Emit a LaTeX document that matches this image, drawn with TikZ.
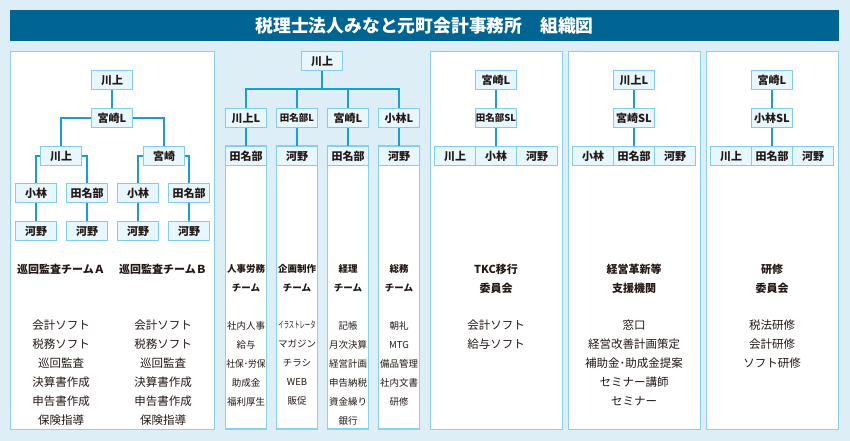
\documentclass[tikz,border=0pt]{standalone}
\usepackage{fontspec}
\setmainfont{Noto Sans CJK JP}
\usepackage{graphicx}
\definecolor{bgc}{RGB}{221,238,247}
\definecolor{titlec}{RGB}{0,101,146}
\definecolor{panelline}{RGB}{140,208,240}
\definecolor{boxline}{RGB}{130,204,240}
\definecolor{boxfill}{RGB}{232,246,253}
\definecolor{connc}{RGB}{24,157,214}
\definecolor{ink}{RGB}{35,24,21}
\newcommand\bxfnt{\bfseries\fontsize{11}{13}\selectfont}
\newcommand\bxsmall{\fontsize{9.5}{11}\selectfont}
\tikzset{
  box/.style={draw=boxline, fill=boxfill, line width=1.2pt, minimum width=41pt,
    minimum height=19pt, inner sep=0pt, font=\bxfnt, text=ink},
  conn/.style={draw=connc, line width=2pt},
  panel/.style={draw=panelline, fill=white, line width=1.2pt, inner sep=0pt},
  colrect/.style={draw=panelline, fill=white, line width=1.2pt, minimum width=41pt,
    minimum height=283pt, inner sep=0pt},
  team/.style={font=\bfseries\fontsize{11}{19}\selectfont, text=ink, align=center, inner sep=0pt},
  items/.style={font=\fontsize{11.5}{19}\selectfont, text=ink, align=center, inner sep=0pt, anchor=north},
  cteam/.style={font=\bfseries\fontsize{9.5}{19}\selectfont, text=ink, align=center, inner sep=0pt},
  citems/.style={font=\fontsize{9.5}{19}\selectfont, text=ink, align=center, inner sep=0pt, anchor=north},
}
\begin{document}
\begin{tikzpicture}[x=1pt,y=-1pt]
\useasboundingbox (0,0) rectangle (850,441);
\fill[bgc] (0,0) rectangle (850,441);
% title
\node[fill=titlec, minimum width=829pt, minimum height=31pt, inner sep=0pt, anchor=north west] (titlebar) at (10,10) {};
\node[text=white, font=\bfseries\fontsize{17.8}{19}\selectfont] (title) at (424.5,26) {税理士法人みなと元町会計事務所　組織図};
% panels
\node[panel, minimum width=204pt, minimum height=378pt, anchor=north west] (pA) at (10,51) {};
\node[panel, minimum width=132pt, minimum height=378pt, anchor=north west] (p1) at (430,51) {};
\node[panel, minimum width=132pt, minimum height=378pt, anchor=north west] (p2) at (568,51) {};
\node[panel, minimum width=132pt, minimum height=378pt, anchor=north west] (p3) at (706,51) {};
% left tree
\node[box] (a1) at (112,80) {川上};
\node[box] (a2) at (112,118) {宮崎L};
\node[box] (a3) at (61,156) {川上};
\node[box] (a4) at (164,156) {宮崎};
\node[box] (a5) at (36,193) {小林};
\node[box] (a6) at (87,193) {田名部};
\node[box] (a7) at (138,193) {小林};
\node[box] (a8) at (189,193) {田名部};
\node[box] (a9) at (36,231) {河野};
\node[box] (a10) at (87,231) {河野};
\node[box] (a11) at (138,231) {河野};
\node[box] (a12) at (189,231) {河野};
\draw[conn] (a1) -- (a2);
\draw[conn] (a2.west) -| (a3.north);
\draw[conn] (a2.east) -| (a4.north);
\draw[conn] (a3.west) -| (a5.north);
\draw[conn] (a3.east) -| (a6.north);
\draw[conn] (a4.west) -| (a7.north);
\draw[conn] (a4.east) -| (a8.north);
\draw[conn] (a5) -- (a9);
\draw[conn] (a6) -- (a10);
\draw[conn] (a7) -- (a11);
\draw[conn] (a8) -- (a12);
\node[team] (ta) at (61,269) {巡回監査チームＡ};
\node[team] (tb) at (163,269) {巡回監査チームＢ};
\node[items] (ia) at (61,320) {会計ソフト\\税務ソフト\\巡回監査\\決算書作成\\申告書作成\\保険指導};
\node[items] (ib) at (163,320) {会計ソフト\\税務ソフト\\巡回監査\\決算書作成\\申告書作成\\保険指導};
% middle
\node[colrect] (c1) at (246,287.5) {};
\node[colrect] (c2) at (297,287.5) {};
\node[colrect] (c3) at (348,287.5) {};
\node[colrect] (c4) at (399,287.5) {};
\node[box] (m0) at (322,61) {川上};
\coordinate (hub) at (322,89);
\node[box] (m1) at (246,118) {川上L};
\node[box] (m2) at (297,118) {\bxsmall 田名部L};
\node[box] (m3) at (348,118) {宮崎L};
\node[box] (m4) at (399,118) {小林L};
\node[box] (h1) at (246,156) {田名部};
\node[box] (h2) at (297,156) {河野};
\node[box] (h3) at (348,156) {田名部};
\node[box] (h4) at (399,156) {河野};
\draw[conn] (m0) -- (hub);
\draw[conn] (m1.north) |- (hub) -| (m4.north);
\draw[conn] (m2.north) -- (m2.north |- hub);
\draw[conn] (m3.north) -- (m3.north |- hub);
\draw[conn] (m1) -- (h1);
\draw[conn] (m2) -- (h2);
\draw[conn] (m3) -- (h3);
\draw[conn] (m4) -- (h4);
\node[cteam] (ct1) at (246,278.5) {人事労務\\チーム};
\node[cteam] (ct2) at (297,278.5) {企画制作\\チーム};
\node[cteam] (ct3) at (348,278.5) {経理\\チーム};
\node[cteam] (ct4) at (399,278.5) {総務\\チーム};
\node[citems] (ci1) at (246,321) {社内人事\\給与\\\scalebox{0.92}[1]{社保･労保}\\助成金\\福利厚生};
\node[citems] (ci2) at (297,321) {\scalebox{0.56}[1]{イラストレータ}\\マガジン\\チラシ\\WEB\\販促};
\node[citems] (ci3) at (348,321) {記帳\\月次決算\\経営計画\\申告納税\\資金繰り\\銀行};
\node[citems] (ci4) at (399,321) {朝礼\\MTG\\備品管理\\社内文書\\研修};
% right panel 1
\node[box] (r1a) at (496,80) {宮崎L};
\node[box] (r1b) at (496,118) {\bxsmall 田名部SL};
\node[box] (r1c) at (455,156) {川上};
\node[box] (r1d) at (496,156) {小林};
\node[box] (r1e) at (537,156) {河野};
\draw[conn] (r1a) -- (r1b);
\draw[conn] (r1b) -- (r1d);
\node[team] (rt1) at (496,278.5) {TKC移行\\委員会};
\node[items] (ri1) at (496,320) {会計ソフト\\給与ソフト};
% right panel 2
\node[box] (r2a) at (634,80) {川上L};
\node[box] (r2b) at (634,118) {宮崎SL};
\node[box] (r2c) at (593,156) {小林};
\node[box] (r2d) at (634,156) {田名部};
\node[box] (r2e) at (675,156) {河野};
\draw[conn] (r2a) -- (r2b);
\draw[conn] (r2b) -- (r2d);
\node[team] (rt2) at (634,278.5) {経営革新等\\支援機関};
\node[items] (ri2) at (634,320) {窓口\\経営改善計画策定\\補助金･助成金提案\\セミナー講師\\セミナー};
% right panel 3
\node[box] (r3a) at (772,80) {宮崎L};
\node[box] (r3b) at (772,118) {小林SL};
\node[box] (r3c) at (731,156) {川上};
\node[box] (r3d) at (772,156) {田名部};
\node[box] (r3e) at (813,156) {河野};
\draw[conn] (r3a) -- (r3b);
\draw[conn] (r3b) -- (r3d);
\node[team] (rt3) at (772,278.5) {研修\\委員会};
\node[items] (ri3) at (772,320) {税法研修\\会計研修\\ソフト研修};
\end{tikzpicture}
\end{document}
